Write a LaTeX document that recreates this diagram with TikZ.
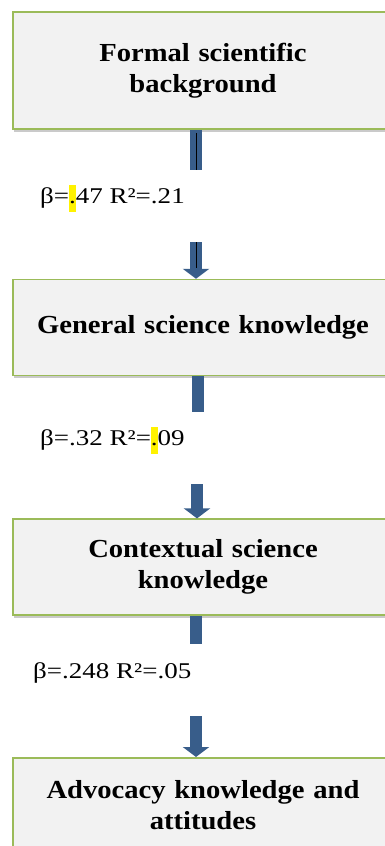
\documentclass[tikz,border=0pt]{standalone}
\usepackage{fontspec}
\setmainfont{Liberation Serif}[FakeStretch=1.1]
\newfontfamily\coeffont{Liberation Serif}[FakeStretch=1.2]
\usepackage{xcolor}
\usetikzlibrary{arrows.meta,positioning,shadows}
\definecolor{boxgreen}{HTML}{9BBB59}
\definecolor{boxfill}{HTML}{F2F2F2}
\definecolor{arrblue}{HTML}{385D8A}
\newcommand{\hl}[1]{{\setlength{\fboxsep}{0pt}\colorbox{yellow}{\strut#1}}}

\begin{document}
\begin{tikzpicture}[
  x=1pt, y=1pt,
  box/.style={rectangle, draw=boxgreen, line width=1.6pt, fill=boxfill, align=center,
    minimum width=380pt, text width=370pt, font=\fontsize{26}{31}\selectfont\bfseries,
    drop shadow={shadow xshift=1pt, shadow yshift=-2.5pt, opacity=0.35, fill=black!60}},
  coef/.style={anchor=west, inner sep=0pt, font=\coeffont\fontsize{22.5}{27}\selectfont},
  stem/.style={draw=arrblue, line width=12pt},
  arr/.style={draw=arrblue, line width=12pt, -{Triangle[width=26pt,length=10pt]}}
]
\useasboundingbox (0,0) rectangle (385,-846);
\clip (0,0) rectangle (385,-846);

\node[box, minimum height=117pt] (formal) at (203,-70.5) {Formal scientific\\background};
\node[box, minimum height=96pt, below=149pt of formal] (general) {General science knowledge};
\node[box, minimum height=96pt, below=142pt of general] (context) {Contextual science\\knowledge};
\node[box, minimum height=94pt, below=141pt of context] (advocacy) {Advocacy knowledge and\\attitudes};

\node[coef] (betaOne) at (40,-198) {β=\hl{.}47 R²=.21};
\node[coef] (betaTwo) at (40,-440) {β=.32 R²=\hl{.}09};
\node[coef] (betaThree) at (33,-673) {β=.248 R²=.05};

\coordinate (stemOne) at (196,-170);
\coordinate (arrOne) at (196,-242);
\coordinate (stemTwo) at (198,-412);
\coordinate (arrTwo) at (197,-484);
\coordinate (stemThree) at (196,-644);
\coordinate (arrThree) at (196,-716);

\draw[stem] (formal.south -| stemOne) -- (stemOne);
\draw[arr] (arrOne) -- (arrOne |- general.north);
\draw[black, line width=0.8pt] ([yshift=-3pt]formal.south -| stemOne) -- (stemOne);
\draw[black, line width=0.8pt] (arrOne) -- ++(0,-26);

\draw[stem] (general.south -| stemTwo) -- (stemTwo);
\draw[arr] (arrTwo) -- (arrTwo |- context.north);

\draw[stem] (context.south -| stemThree) -- (stemThree);
\draw[arr] (arrThree) -- (arrThree |- advocacy.north);
\end{tikzpicture}
\end{document}
